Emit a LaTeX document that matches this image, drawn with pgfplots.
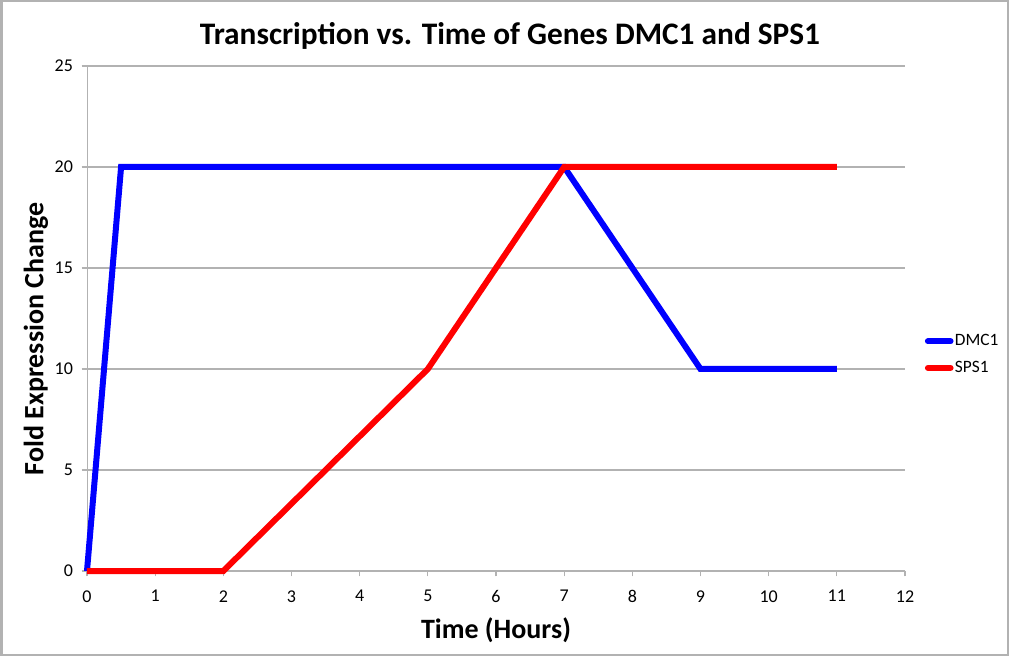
\documentclass[border=0pt]{standalone}
\usepackage{pgfplots}
\pgfplotsset{compat=1.18}
\usepackage{fontspec}
\setmainfont{Carlito}
\definecolor{gridgray}{RGB}{178,178,178}
\definecolor{dmcblue}{RGB}{0,0,255}
\definecolor{spsred}{RGB}{255,0,0}
\begin{document}
\begin{tikzpicture}[x=0.75pt,y=0.75pt]
\useasboundingbox (0,0) rectangle (1010,657);
\fill[white] (0,0) rectangle (1010,657);
\draw[gridgray,line width=1.5pt] (1.5,2.5) rectangle (1008,655.5);
\node[font=\bfseries\fontsize{23.5}{28}\selectfont] at (510,621) {Transcription vs. Time of Genes DMC1 and SPS1};
\node[font=\bfseries\fontsize{21}{25}\selectfont, rotate=90] at (36,318) {Fold Expression Change};
\begin{axis}[
    at={(87pt*0.75,86pt*0.75)}, anchor=origin,
    scale only axis,
    width=613.5pt, height=378.75pt,
    xmin=0, xmax=12, ymin=0, ymax=25,
    xtick={0,...,12}, ytick={0,5,...,25},
    axis lines=left,
    axis line style={gridgray,-},
    tick style={gridgray,line width=0.8pt},
    tick align=outside,
    major tick length=4pt,
    ymajorgrids=true,
    grid style={gridgray,line width=0.8pt},
    ticklabel style={font=\fontsize{13.5}{15}\selectfont},
    xticklabel style={yshift=-7pt},
    yticklabel style={xshift=-3pt},
    /pgf/number format/assume math mode=true,
    xlabel={Time (Hours)},
    xlabel style={font=\bfseries\fontsize{21}{25}\selectfont, yshift=-4pt},
    legend style={draw=none, fill=none, at={(1.024,0.4285)}, anchor=west,
        font=\fontsize{13}{15}\selectfont, row sep=6pt, inner sep=0pt,
        nodes={inner xsep=1pt}},
    legend cell align=left,
    legend image code/.code={\draw[#1,line cap=round] (0,0) -- (17pt,0);},
    clip=false,
]
\addplot[dmcblue, line width=4.5pt, line join=miter] coordinates {(0,0) (0.5,20) (7,20) (9,10) (11,10)};
\addplot[spsred, line width=4.5pt, line join=miter] coordinates {(0,0) (2,0) (5,10) (6,15) (7,20) (11,20)};
\legend{DMC1,SPS1}
\end{axis}
\end{tikzpicture}
\end{document}
